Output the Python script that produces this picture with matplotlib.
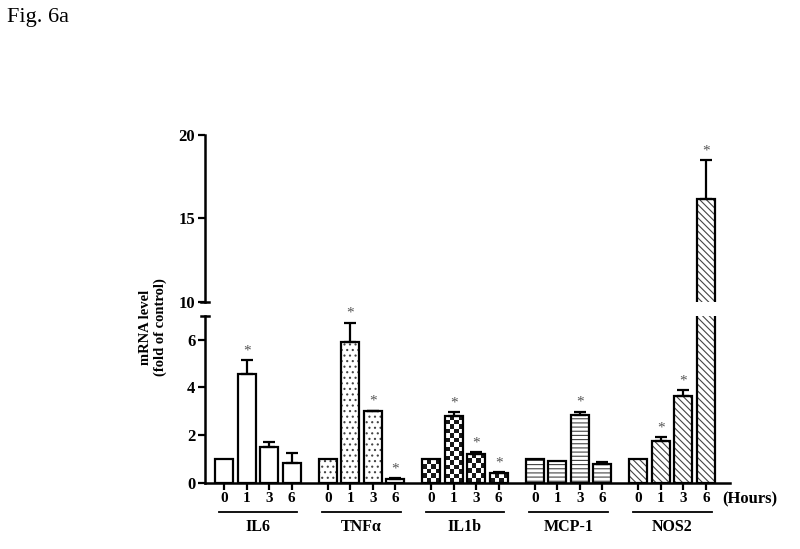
import numpy as np
import matplotlib
matplotlib.use('Agg')
import matplotlib.pyplot as plt

plt.rcParams['font.family'] = ['Liberation Serif', 'DejaVu Serif']
plt.rcParams['hatch.linewidth'] = 0.8

genes = ['IL6', 'TNF\u03b1', 'IL1b', 'MCP-1', 'NOS2']
hours = ['0', '1', '3', '6']
# mean fold change per gene, per time point
il6 = [1.0, 4.55, 1.50, 0.83]
tnfa = [1.0, 5.92, 3.00, 0.15]
il1b = [1.0, 2.82, 1.22, 0.40]
mcp1 = [1.0, 0.90, 2.84, 0.80]
nos2 = [1.0, 1.75, 3.64, 16.2]
# error (SEM) above the bar
il6_err = [0.0, 0.60, 0.20, 0.40]
tnfa_err = [0.0, 0.80, 0.03, 0.05]
il1b_err = [0.0, 0.14, 0.05, 0.05]
mcp1_err = [0.0, 0.0, 0.14, 0.08]
nos2_err = [0.0, 0.17, 0.24, 2.30]
# significance markers
il6_sig = [0, 1, 0, 0]
tnfa_sig = [0, 1, 1, 1]
il1b_sig = [0, 1, 1, 1]
mcp1_sig = [0, 0, 1, 0]
nos2_sig = [0, 1, 1, 1]

means = [il6, tnfa, il1b, mcp1, nos2]
errs = [il6_err, tnfa_err, il1b_err, mcp1_err, nos2_err]
sigs = [il6_sig, tnfa_sig, il1b_sig, mcp1_sig, nos2_sig]
hatches = ['', '...', None, '----', '\\\\\\\\\\']
hatch_color = '#444444'

group_gap = 4.6
width = 0.8

fig = plt.figure(figsize=(8, 5.49), dpi=100)
ax_lo = fig.add_axes([0.25625, 0.1208, 0.65625, 0.3036])
ax_hi = fig.add_axes([0.25625, 0.4505, 0.65625, 0.3031])

xlim = (-0.85, 4 * group_gap + 3 + 1.07)

for g, gene in enumerate(genes):
    xs = g * group_gap + np.arange(len(hours))
    m = np.array(means[g])
    e = np.array(errs[g])
    for ax in (ax_lo, ax_hi):
        if hatches[g]:
            ax.bar(xs, m, width=width, color='white', edgecolor=hatch_color,
                   linewidth=0, hatch=hatches[g], zorder=1.8)
        bars = ax.bar(xs, m, width=width, color='none', edgecolor='black',
                      linewidth=1.6, zorder=2)
        if hatches[g] is None and ax is ax_lo:
            # checkerboard fill for IL1b
            for b in bars:
                x0 = b.get_x()
                h = b.get_height()
                nx = 4
                ny = max(1, int(round(h / 0.19)))
                chk = (np.indices((ny, nx)).sum(axis=0) % 2).astype(float)
                im = ax.imshow(chk, cmap='binary', extent=(x0, x0 + width, 0, h),
                               aspect='auto', interpolation='nearest', zorder=1.5,
                               vmin=0, vmax=1.1)
                im.set_clip_path(b)
        keep = e > 0
        ax.errorbar(xs[keep], m[keep], yerr=[np.zeros(keep.sum()), e[keep]],
                    fmt='none', ecolor='black', elinewidth=1.6, capsize=4,
                    capthick=1.6, zorder=3)
        for x, v, s, sg in zip(xs, m, e, sigs[g]):
            if sg:
                ax.annotate('*', (x, v + s), xytext=(0, 2), textcoords='offset points',
                            ha='center', va='bottom', fontsize=11, color='#555555',
                            annotation_clip=True)
    # group underline and label
    c = xs.mean()
    ax_lo.plot([c - 1.75, c + 1.75], [-0.176, -0.176], color='black', lw=1.3,
               transform=ax_lo.get_xaxis_transform(), clip_on=False)
    ax_lo.text(c, -0.265, gene, transform=ax_lo.get_xaxis_transform(),
               ha='center', va='center', fontsize=11.5, fontweight='bold')

xticks = np.concatenate([g * group_gap + np.arange(len(hours)) for g in range(len(genes))])
ax_lo.set_xticks(xticks)
ax_lo.set_xticklabels(hours * len(genes), fontsize=11, fontweight='bold')
ax_lo.set_xlim(*xlim)
ax_lo.set_ylim(0, 7)
ax_lo.set_yticks([0, 2, 4, 6])
ax_lo.set_yticklabels(['0', '2', '4', '6'], fontsize=12, fontweight='bold')
ax_lo.tick_params(direction='out', length=5, width=1.6, pad=2)
ax_lo.spines['top'].set_visible(False)
ax_lo.spines['right'].set_visible(False)
ax_lo.spines['left'].set_linewidth(1.8)
ax_lo.spines['bottom'].set_linewidth(1.8)
ax_lo.text(0.985, -0.1, '(Hours)', transform=ax_lo.transAxes, ha='left', va='center',
           fontsize=12, fontweight='bold')
ax_lo.plot([-0.008, 0.008], [1, 1], color='black', lw=1.8,
           transform=ax_lo.transAxes, clip_on=False)

ax_hi.set_xlim(*xlim)
ax_hi.set_ylim(10, 20)
ax_hi.set_xticks([])
ax_hi.set_yticks([10, 15, 20])
ax_hi.set_yticklabels(['10', '15', '20'], fontsize=12, fontweight='bold')
ax_hi.tick_params(direction='out', length=5, width=1.6, pad=2)
for side in ('top', 'right', 'bottom'):
    ax_hi.spines[side].set_visible(False)
ax_hi.spines['left'].set_linewidth(1.8)
ax_hi.plot([-0.008, 0.008], [0, 0], color='black', lw=1.8,
           transform=ax_hi.transAxes, clip_on=False)
ax_hi.patch.set_alpha(0)

fig.text(153 / 800, 1 - 327 / 549, 'mRNA level\n(fold of control)', rotation=90,
         ha='center', va='center', fontsize=10.5, fontweight='bold', linespacing=1.15)
fig.text(0.009, 1 - 8 / 549, 'Fig. 6a', ha='left', va='top', fontsize=16)

fig.savefig('out.png', dpi=100)
